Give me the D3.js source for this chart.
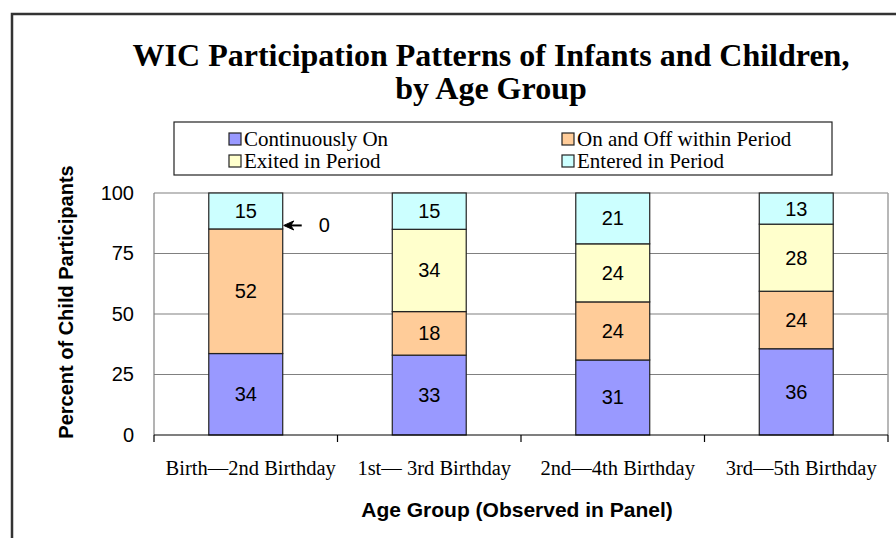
<!DOCTYPE html>
<meta charset="utf-8">
<style>
body { margin: 0; background: #fff; }
text { fill: #000; }
.serif { font-family: "Liberation Serif", "DejaVu Serif", serif; }
.sans { font-family: "Liberation Sans", Arial, sans-serif; }
</style>
<body>
<script src="https://cdn.jsdelivr.net/npm/d3@7"></script>
<script>

// data
var groups = ["Birth\u20142nd Birthday", "1st\u2014 3rd Birthday", "2nd\u20144th Birthday", "3rd\u20145th Birthday"];
var seriesNames = ["Continuously On", "On and Off within Period", "Exited in Period", "Entered in Period"];
var continuouslyOn = [34, 33, 31, 36];
var onAndOff = [52, 18, 24, 24];
var exited = [0, 34, 24, 28];
var entered = [15, 15, 21, 13];
var yTicks = [0, 25, 50, 75, 100];
var colors = ["#9999ff", "#ffcc99", "#ffffcc", "#ccffff"];

var W = 896, H = 538;
var plot = {left: 154, right: 888, top: 193, bottom: 435};

var svg = d3.select("body").append("svg")
  .attr("width", W).attr("height", H);

// outer frame (runs off the right and bottom)
svg.append("path")
  .attr("d", "M12," + H + "V14H" + W)
  .attr("fill", "none").attr("stroke", "#333").attr("stroke-width", 2.5);

// title, two lines
var title = svg.append("text").attr("class", "serif")
  .attr("text-anchor", "middle")
  .style("font-size", "32px").style("font-weight", "bold");
title.append("tspan").attr("x", 491).attr("y", 66).text("WIC Participation Patterns of Infants and Children,");
title.append("tspan").attr("x", 491).attr("y", 99).text("by Age Group");

// table for stacking
var rows = groups.map(function(g, i) {
  return {group: g, s0: continuouslyOn[i], s1: onAndOff[i], s2: exited[i], s3: entered[i]};
});
var keys = ["s0", "s1", "s2", "s3"];

// stacks are shown as share of 100
var stack = d3.stack().keys(keys).offset(d3.stackOffsetExpand);
var layers = stack(rows);

var x = d3.scaleBand().domain(groups).range([plot.left, plot.right]);
var y = d3.scaleLinear().domain([0, 100]).range([plot.bottom, plot.top]);
var barW = x.bandwidth() * 0.403;

// gridlines and plot frame
svg.append("g").selectAll("line")
  .data(yTicks.slice(1))
  .enter().append("line")
    .attr("x1", plot.left).attr("x2", plot.right)
    .attr("y1", function(d) { return y(d); }).attr("y2", function(d) { return y(d); })
    .attr("stroke", "#808080").attr("stroke-width", 1.2);
svg.append("line")
  .attr("x1", plot.left).attr("x2", plot.left).attr("y1", plot.top).attr("y2", plot.bottom)
  .attr("stroke", "#808080").attr("stroke-width", 1.2);
svg.append("line")
  .attr("x1", plot.right).attr("x2", plot.right).attr("y1", plot.top).attr("y2", plot.bottom)
  .attr("stroke", "#a0a0a0").attr("stroke-width", 1.5);

// y axis labels
var yAxis = d3.axisLeft(y).tickValues(yTicks).tickSize(0).tickPadding(20);
var gy = svg.append("g").attr("transform", "translate(" + plot.left + ",0)").call(yAxis);
gy.select(".domain").remove();
gy.selectAll("text").attr("class", "sans").style("font-size", "20px").attr("fill", "#000");

// bars
var layer = svg.append("g").selectAll("g")
  .data(layers)
  .enter().append("g")
    .attr("fill", function(d, i) { return colors[i]; });

layer.selectAll("rect")
  .data(function(d) { return d; })
  .enter().append("rect")
    .attr("x", function(d) { return x(d.data.group) + (x.bandwidth() - barW) / 2; })
    .attr("width", barW)
    .attr("y", function(d) { return y(d[1] * 100); })
    .attr("height", function(d) { return y(d[0] * 100) - y(d[1] * 100); })
    .attr("stroke", "#222").attr("stroke-width", 1.2);

// value labels (skip the empty segment, labelled with an arrow instead)
layer.selectAll("text")
  .data(function(d) { var k = d.key; return d.map(function(p) { return {p: p, v: p.data[k]}; }); })
  .enter().filter(function(d) { return d.v > 0; }).append("text")
    .attr("class", "sans")
    .attr("x", function(d) { return x(d.p.data.group) + x.bandwidth() / 2; })
    .attr("y", function(d) { return y((d.p[0] + d.p[1]) * 50); })
    .attr("dy", "0.35em")
    .attr("text-anchor", "middle")
    .style("font-size", "20px")
    .text(function(d) { return d.v; });

// arrow pointing at the zero segment
var zeroPt = layers[2][0];
var zx = x(groups[0]) + (x.bandwidth() + barW) / 2 + 1;
var zy = y(zeroPt[1] * 100) - 3.5;
svg.append("path")
  .attr("d", "M" + zx + "," + zy + "l10,-4.5l-3,4.5l3,4.5z")
  .attr("fill", "#000").attr("stroke", "#000").attr("stroke-width", 1);
svg.append("line")
  .attr("x1", zx + 7).attr("x2", zx + 18)
  .attr("y1", zy).attr("y2", zy)
  .attr("stroke", "#000").attr("stroke-width", 2);
svg.append("text").attr("class", "sans")
  .attr("x", zx + 35).attr("y", zy).attr("dy", "0.35em")
  .attr("text-anchor", "start").style("font-size", "20px")
  .text(exited[0]);

// bottom axis with ticks at category boundaries
svg.append("line")
  .attr("x1", plot.left).attr("x2", plot.right).attr("y1", plot.bottom).attr("y2", plot.bottom)
  .attr("stroke", "#000").attr("stroke-width", 1.2);
svg.append("g").selectAll("line")
  .data(groups.concat([null]))
  .enter().append("line")
    .attr("x1", function(d) { return d ? x(d) : plot.right; })
    .attr("x2", function(d) { return d ? x(d) : plot.right; })
    .attr("y1", plot.bottom).attr("y2", plot.bottom + 7)
    .attr("stroke", "#000").attr("stroke-width", 1.2);
svg.append("g").selectAll("text")
  .data(groups)
  .enter().append("text")
    .attr("class", "serif")
    .attr("x", function(d) { return x(d) + x.bandwidth() / 2 + 5; })
    .attr("y", 475)
    .attr("text-anchor", "middle")
    .style("font-size", "20.5px")
    .text(function(d) { return d; });

// axis titles
svg.append("text").attr("class", "sans")
  .attr("x", 517).attr("y", 517)
  .attr("text-anchor", "middle")
  .style("font-size", "21px").style("font-weight", "bold")
  .text("Age Group (Observed in Panel)");
svg.append("text").attr("class", "sans")
  .attr("transform", "translate(73,302) rotate(-90)")
  .attr("text-anchor", "middle")
  .style("font-size", "20px").style("font-weight", "bold")
  .text("Percent of Child Participants");

// legend
var legend = svg.append("g");
legend.append("rect")
  .attr("x", 174).attr("y", 122).attr("width", 658).attr("height", 53)
  .attr("fill", "#fff").attr("stroke", "#222").attr("stroke-width", 1.2);
var item = legend.selectAll("g.item")
  .data(seriesNames)
  .enter().append("g").attr("class", "item")
    .attr("transform", function(d, i) {
      return "translate(" + (i % 2 ? 562 : 229) + "," + (i < 2 ? 133 : 155) + ")"; });
item.append("rect")
  .attr("width", 12).attr("height", 12)
  .attr("fill", function(d, i) { return colors[i]; })
  .attr("stroke", "#222").attr("stroke-width", 1.2);
item.append("text").attr("class", "serif")
  .attr("x", 15).attr("y", 6).attr("dy", "0.35em")
  .style("font-size", "21px")
  .text(function(d) { return d; });

</script>
</body>
